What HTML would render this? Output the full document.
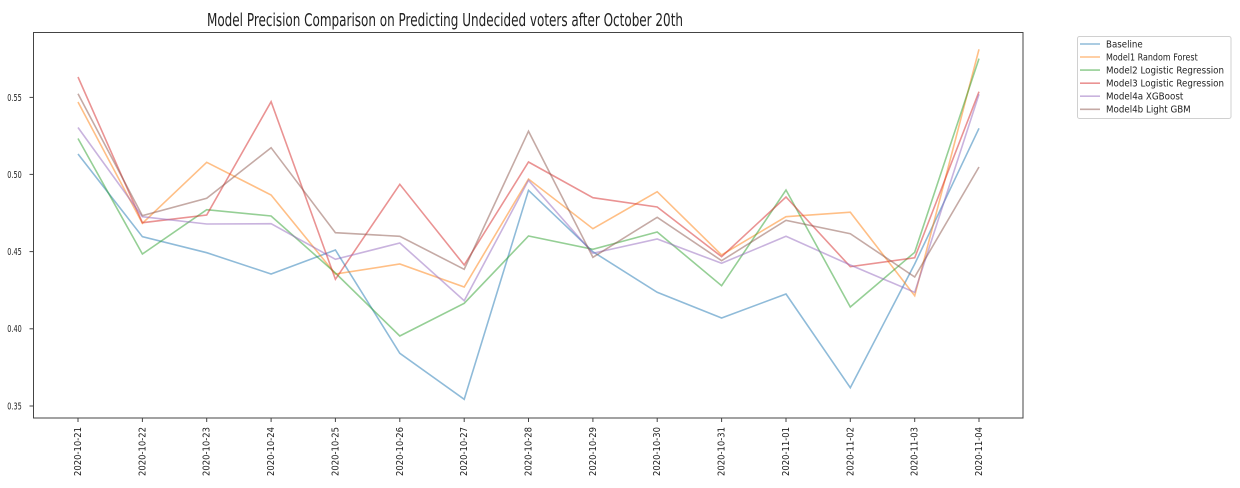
<!DOCTYPE html>
<html>
<head>
<meta charset="utf-8">
<style>
html,body{margin:0;padding:0;background:#fff;}
svg{display:block;}
text{font-family:"DejaVu Sans","Liberation Sans",sans-serif;fill:#222;}
</style>
</head>
<body>
<svg width="1240" height="488" viewBox="0 0 1240 488" xmlns="http://www.w3.org/2000/svg">
<rect width="1240" height="488" fill="#fff"/>
<!-- title -->
<text x="207" y="26" font-size="17.5" textLength="476" lengthAdjust="spacingAndGlyphs">Model Precision Comparison on Predicting Undecided voters after October 20th</text>

<!-- series -->
<g fill="none" stroke-width="1.6" stroke-opacity="0.5" stroke-linejoin="miter">
<polyline stroke="#1f77b4" points="78,154 142.4,236.7 206.7,252.7 271.1,274 335.4,250 399.8,353.3 464.2,399.3 528.5,190.3 592.9,251.7 657.2,292.3 721.6,318 786,294 850.3,387.7 914.7,264 979,128.3"/>
<polyline stroke="#ff7f0e" points="78,102 142.4,223.3 206.7,162.3 271.1,195 335.4,274 399.8,264 464.2,287 528.5,179 592.9,228.7 657.2,191.7 721.6,255 786,216.7 850.3,212.2 914.7,295.7 979,49.3"/>
<polyline stroke="#2ca02c" points="78,138.5 142.4,254 206.7,209.7 271.1,216 335.4,273 399.8,336 464.2,303.3 528.5,236 592.9,249.3 657.2,232 721.6,285.7 786,190 850.3,307 914.7,252.3 979,58.6"/>
<polyline stroke="#d62728" points="78,77 142.4,222.7 206.7,215 271.1,101.7 335.4,279.3 399.8,184.3 464.2,265 528.5,162 592.9,197.7 657.2,207 721.6,256.7 786,197 850.3,266.7 914.7,257.8 979,91.7"/>
<polyline stroke="#9467bd" points="78,127.5 142.4,216.7 206.7,224 271.1,223.7 335.4,259.3 399.8,243 464.2,300.7 528.5,180.3 592.9,253.3 657.2,239 721.6,263.3 786,236.3 850.3,265 914.7,292.3 979,94.3"/>
<polyline stroke="#8c564b" points="78,93.8 142.4,215.7 206.7,198.3 271.1,147.7 335.4,232.7 399.8,236.3 464.2,269.3 528.5,131.2 592.9,257.3 657.2,217.3 721.6,260.7 786,220.3 850.3,233.7 914.7,277 979,167"/>
</g>

<!-- axes frame -->
<rect x="33.5" y="32.5" width="989.5" height="385.5" fill="none" stroke="#444" stroke-width="1"/>

<!-- y ticks -->
<g stroke="#444" stroke-width="1">
<line x1="29.5" y1="406" x2="33.5" y2="406"/>
<line x1="29.5" y1="328.8" x2="33.5" y2="328.8"/>
<line x1="29.5" y1="251.6" x2="33.5" y2="251.6"/>
<line x1="29.5" y1="174.4" x2="33.5" y2="174.4"/>
<line x1="29.5" y1="97.4" x2="33.5" y2="97.4"/>
</g>
<g font-size="9.5">
<text x="7.3" y="409.4" textLength="14.4" lengthAdjust="spacingAndGlyphs">0.35</text>
<text x="7.3" y="332.2" textLength="14.4" lengthAdjust="spacingAndGlyphs">0.40</text>
<text x="7.3" y="255" textLength="14.4" lengthAdjust="spacingAndGlyphs">0.45</text>
<text x="7.3" y="177.8" textLength="14.4" lengthAdjust="spacingAndGlyphs">0.50</text>
<text x="7.3" y="100.8" textLength="14.4" lengthAdjust="spacingAndGlyphs">0.55</text>
</g>

<!-- x ticks -->
<g stroke="#444" stroke-width="1">
<line x1="78" y1="418" x2="78" y2="422"/>
<line x1="142.4" y1="418" x2="142.4" y2="422"/>
<line x1="206.7" y1="418" x2="206.7" y2="422"/>
<line x1="271.1" y1="418" x2="271.1" y2="422"/>
<line x1="335.4" y1="418" x2="335.4" y2="422"/>
<line x1="399.8" y1="418" x2="399.8" y2="422"/>
<line x1="464.2" y1="418" x2="464.2" y2="422"/>
<line x1="528.5" y1="418" x2="528.5" y2="422"/>
<line x1="592.9" y1="418" x2="592.9" y2="422"/>
<line x1="657.2" y1="418" x2="657.2" y2="422"/>
<line x1="721.6" y1="418" x2="721.6" y2="422"/>
<line x1="786" y1="418" x2="786" y2="422"/>
<line x1="850.3" y1="418" x2="850.3" y2="422"/>
<line x1="914.7" y1="418" x2="914.7" y2="422"/>
<line x1="979" y1="418" x2="979" y2="422"/>
</g>
<g font-size="9.5">
<text transform="translate(81,476) rotate(-90)" textLength="49" lengthAdjust="spacingAndGlyphs">2020-10-21</text>
<text transform="translate(145.4,476) rotate(-90)" textLength="49" lengthAdjust="spacingAndGlyphs">2020-10-22</text>
<text transform="translate(209.7,476) rotate(-90)" textLength="49" lengthAdjust="spacingAndGlyphs">2020-10-23</text>
<text transform="translate(274.1,476) rotate(-90)" textLength="49" lengthAdjust="spacingAndGlyphs">2020-10-24</text>
<text transform="translate(338.4,476) rotate(-90)" textLength="49" lengthAdjust="spacingAndGlyphs">2020-10-25</text>
<text transform="translate(402.8,476) rotate(-90)" textLength="49" lengthAdjust="spacingAndGlyphs">2020-10-26</text>
<text transform="translate(467.2,476) rotate(-90)" textLength="49" lengthAdjust="spacingAndGlyphs">2020-10-27</text>
<text transform="translate(531.5,476) rotate(-90)" textLength="49" lengthAdjust="spacingAndGlyphs">2020-10-28</text>
<text transform="translate(595.9,476) rotate(-90)" textLength="49" lengthAdjust="spacingAndGlyphs">2020-10-29</text>
<text transform="translate(660.2,476) rotate(-90)" textLength="49" lengthAdjust="spacingAndGlyphs">2020-10-30</text>
<text transform="translate(724.6,476) rotate(-90)" textLength="49" lengthAdjust="spacingAndGlyphs">2020-10-31</text>
<text transform="translate(789,476) rotate(-90)" textLength="49" lengthAdjust="spacingAndGlyphs">2020-11-01</text>
<text transform="translate(853.3,476) rotate(-90)" textLength="49" lengthAdjust="spacingAndGlyphs">2020-11-02</text>
<text transform="translate(917.7,476) rotate(-90)" textLength="49" lengthAdjust="spacingAndGlyphs">2020-11-03</text>
<text transform="translate(982,476) rotate(-90)" textLength="49" lengthAdjust="spacingAndGlyphs">2020-11-04</text>
</g>

<!-- legend -->
<rect x="1077.5" y="36.5" width="153.5" height="82" rx="2" ry="2" fill="#fff" stroke="#d0d0d0" stroke-width="1"/>
<g stroke-width="1.6" stroke-opacity="0.5">
<line x1="1080" y1="44" x2="1100" y2="44" stroke="#1f77b4"/>
<line x1="1080" y1="57" x2="1100" y2="57" stroke="#ff7f0e"/>
<line x1="1080" y1="70.1" x2="1100" y2="70.1" stroke="#2ca02c"/>
<line x1="1080" y1="83.2" x2="1100" y2="83.2" stroke="#d62728"/>
<line x1="1080" y1="96.2" x2="1100" y2="96.2" stroke="#9467bd"/>
<line x1="1080" y1="109.3" x2="1100" y2="109.3" stroke="#8c564b"/>
</g>
<g font-size="9.5">
<text x="1106" y="47.4" textLength="36.7" lengthAdjust="spacingAndGlyphs">Baseline</text>
<text x="1106" y="60.4" textLength="91.7" lengthAdjust="spacingAndGlyphs">Model1 Random Forest</text>
<text x="1106" y="73.5" textLength="118" lengthAdjust="spacingAndGlyphs">Model2 Logistic Regression</text>
<text x="1106" y="86.6" textLength="118" lengthAdjust="spacingAndGlyphs">Model3 Logistic Regression</text>
<text x="1106" y="99.6" textLength="77.3" lengthAdjust="spacingAndGlyphs">Model4a XGBoost</text>
<text x="1106" y="112.7" textLength="84.7" lengthAdjust="spacingAndGlyphs">Model4b Light GBM</text>
</g>
</svg>
</body>
</html>
